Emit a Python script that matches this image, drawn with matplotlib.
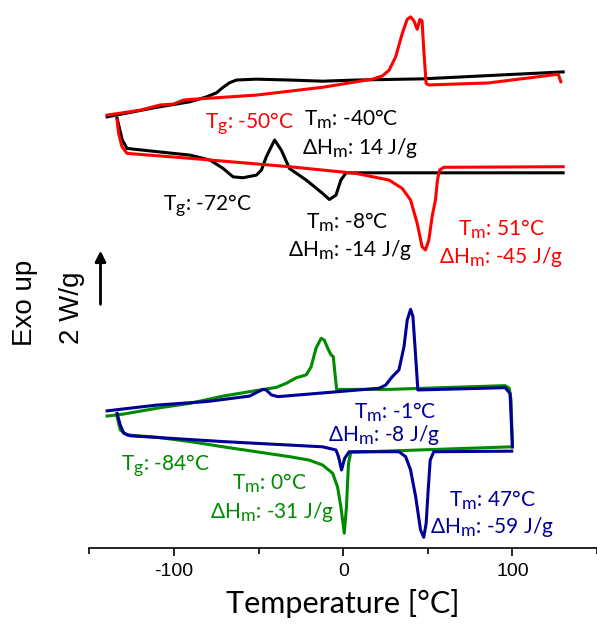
import numpy as np
import matplotlib.pyplot as plt
import matplotlib._mathtext as mt

mt.SHRINK_FACTOR = 0.85  # subscripts nearly full size, like the original
plt.rcParams['mathtext.fontset'] = 'custom'
plt.rcParams['mathtext.rm'] = 'Lato'
plt.rcParams['mathtext.it'] = 'Lato'

# black sample (top pair)
blk_cool_T = [-139.6, -110.2, -90.6, -80.8, -74.9, -71.0, -67.1, -63.1, -51.4, -31.8,
              -12.2, 7.5, 46.6, 130]
blk_cool_y = [14.87, 15.20, 15.39, 15.56, 15.70, 15.89, 16.05, 16.14, 16.17, 16.14,
              16.10, 16.14, 16.18, 16.42]
blk_heat_T = [-133.7, -130.6, -127.8, -110.2, -90.6, -78.8, -71.0, -65.1, -59.2, -51.4,
              -48.4, -45.5, -40.6, -36.6, -31.8, -21.9, -12.2, -8.2, -4.3, -1.4,
              1.6, 27.1, 130]
blk_heat_y = [14.82, 14.07, 13.78, 13.67, 13.55, 13.38, 13.09, 12.80, 12.77, 12.86,
              13.03, 13.49, 14.07, 13.72, 13.09, 12.69, 12.23, 12.02, 12.17, 12.69,
              12.94, 12.94, 12.94]

# red sample (top pair)
red_cool_T = [-139.6, -120.0, -108.2, -100.4, -94.5, -90.6, -51.4, -12.2, 17.2, 23.1,
              27.1, 31.0, 34.9, 37.8, 39.8, 41.8, 43.7, 45.3, 46.6, 47.6,
              49.0, 50.6, 85.9, 127.1, 128.6]
red_cool_y = [14.93, 15.10, 15.28, 15.31, 15.45, 15.47, 15.62, 15.89, 16.17, 16.28,
              16.48, 16.94, 17.75, 18.23, 18.32, 18.18, 17.89, 18.23, 18.18, 17.17,
              16.02, 15.97, 16.04, 16.34, 16.08]
red_heat_T = [-133.7, -132.8, -130.8, -127.8, -90.6, -31.8, 7.5, 27.1, 34.9, 39.8,
              43.7, 46.6, 48.6, 50.6, 52.5, 54.5, 55.7, 56.9, 59.4, 130]
red_heat_y = [14.76, 14.30, 13.84, 13.61, 13.44, 13.15, 12.92, 12.69, 12.40, 12.00,
              11.20, 10.39, 10.28, 10.62, 11.42, 12.00, 12.69, 13.03, 13.13, 13.15]

# green sample (bottom pair)
grn_cool_T = [-139.6, -129.8, -110.2, -90.6, -71.0, -51.4, -39.6, -33.7, -27.8, -21.9,
              -19.0, -16.1, -13.1, -11.2, -9.2, -7.2, -5.9, -4.7, -3.9, 27.1,
              95.7, 98.1, 99.2, 100.0]
grn_cool_y = [4.55, 4.62, 4.82, 4.99, 5.24, 5.43, 5.54, 5.68, 5.87, 5.97,
              6.25, 6.89, 7.23, 7.17, 6.89, 6.66, 6.60, 5.91, 5.47, 5.47,
              5.60, 5.51, 5.10, 3.49]
grn_heat_T = [-133.7, -131.8, -127.8, -110.2, -90.6, -71.0, -51.4, -31.8, -20.0, -12.2,
              -6.3, -3.4, -1.4, 0.6, 1.9, 3.1, 4.5, 99.6]
grn_heat_y = [4.53, 4.07, 3.90, 3.82, 3.67, 3.49, 3.32, 3.15, 3.03, 2.86,
              2.58, 2.11, 1.42, 0.51, 1.42, 2.92, 3.30, 3.49]

# blue sample (bottom pair)
blu_cool_T = [-139.6, -110.2, -80.8, -55.3, -51.4, -47.5, -45.5, -42.5, -38.6, 21.2,
              25.1, 29.0, 32.9, 35.9, 37.8, 39.8, 41.2, 42.8, 44.1, 95.7,
              98.6, 100.0]
blu_cool_y = [4.73, 4.93, 5.05, 5.24, 5.36, 5.47, 5.45, 5.28, 5.22, 5.51,
              5.62, 5.91, 6.14, 6.94, 7.86, 8.23, 7.98, 6.60, 5.45, 5.53,
              5.33, 3.49]
blu_heat_T = [-133.7, -131.8, -129.8, -125.9, -71.0, -12.2, -4.3, -2.8, -1.0, 0.8,
              3.5, 32.9, 36.9, 39.8, 42.8, 45.7, 47.6, 49.0, 50.2, 51.4,
              53.5, 99.6]
blu_heat_y = [4.64, 4.24, 3.96, 3.87, 3.67, 3.49, 3.38, 3.15, 2.69, 3.09,
              3.32, 3.32, 3.15, 2.69, 1.77, 0.62, 0.37, 0.85, 2.00, 3.03,
              3.32, 3.34]

black = 'black'
red = '#ff0000'
green = '#008a00'
blue = '#000096'

fig = plt.figure(figsize=(5.97, 6.31), dpi=100)
ax = fig.add_axes([89.5 / 597, 83 / 631, (597 - 89.5) / 597, 548 / 631])

lw = 2.2
kw = dict(lw=lw, solid_joinstyle='round')
ax.plot(blk_cool_T, blk_cool_y, color=black, **kw)
ax.plot(blk_heat_T, blk_heat_y, color=black, **kw)
ax.plot(red_cool_T, red_cool_y, color=red, **kw)
ax.plot(red_heat_T, red_heat_y, color=red, **kw)
ax.plot(grn_cool_T, grn_cool_y, color=green, **kw)
ax.plot(grn_heat_T, grn_heat_y, color=green, **kw)
ax.plot(blu_cool_T, blu_cool_y, color=blue, **kw)
ax.plot(blu_heat_T, blu_heat_y, color=blue, **kw)

ax.set_xlim(-149.5, 148.8)
ax.set_ylim(0, 18.9)

fs = 15
fam = ['Lato', 'DejaVu Sans']
def lab(x, y, s, c):
    ax.text(x, y, s, color=c, fontsize=fs, family=fam, ha='center', va='center')

lab(-55.3, 14.66, r'T$_\mathrm{g}$: -50°C', red)
lab(4.7, 14.8, r'T$_\mathrm{m}$: -40°C', black)
lab(10.0, 13.79, r'ΔH$_\mathrm{m}$: 14 J/g', black)
lab(-80.0, 11.83, r'T$_\mathrm{g}$: -72°C', black)
lab(2.4, 11.24, r'T$_\mathrm{m}$: -8°C', black)
lab(4.1, 10.28, r'ΔH$_\mathrm{m}$: -14 J/g', black)
lab(93.5, 11.0, r'T$_\mathrm{m}$: 51°C', red)
lab(93.5, 10.03, r'ΔH$_\mathrm{m}$: -45 J/g', red)

lab(30.6, 4.69, r'T$_\mathrm{m}$: -1°C', blue)
lab(24.1, 3.9, r'ΔH$_\mathrm{m}$: -8 J/g', blue)
lab(-105.3, 2.86, r'T$_\mathrm{g}$: -84°C', green)
lab(-43.5, 2.24, r'T$_\mathrm{m}$: 0°C', green)
lab(-42.4, 1.24, r'ΔH$_\mathrm{m}$: -31 J/g', green)
lab(88.2, 1.65, r'T$_\mathrm{m}$: 47°C', blue)
lab(88.2, 0.72, r'ΔH$_\mathrm{m}$: -59 J/g', blue)

# 2 W/g scale arrow
ax.annotate('', xy=(-143.5, 10.35), xytext=(-143.5, 8.31),
            arrowprops=dict(arrowstyle='-|>', color='black', lw=2, mutation_scale=16),
            annotation_clip=False)

for s in ['top', 'left', 'right']:
    ax.spines[s].set_visible(False)
ax.spines['bottom'].set_linewidth(1.2)
ax.set_yticks([])
ax.set_xticks([-100, 0, 100])
ax.set_xticklabels(['-100', '0', '100'], family='Liberation Sans', fontsize=14)
ax.set_xticks([-150, -50, 50, 150], minor=True)
ax.tick_params(axis='x', which='major', direction='out', length=6, width=1.2, pad=5)
ax.tick_params(axis='x', which='minor', direction='out', length=4, width=1.2)
ax.set_xlabel('Temperature [°C]', family=fam, fontsize=22, labelpad=6)

fig.text(25 / 597, 1 - 303 / 631, 'Exo up', rotation=90, ha='center', va='center',
         family='Liberation Sans', fontsize=20)
fig.text(72 / 597, 1 - 308 / 631, '2 W/g', rotation=90, ha='center', va='center',
         family='Liberation Sans', fontsize=20)

fig.savefig('out.png', dpi=100)
